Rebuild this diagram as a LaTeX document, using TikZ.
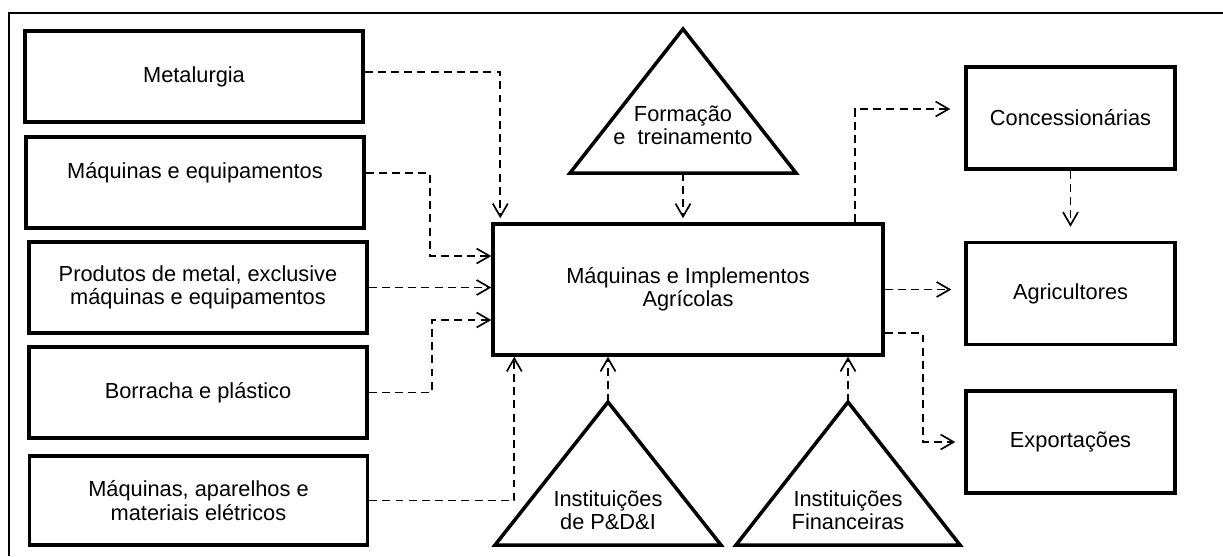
\documentclass[tikz,border=0pt]{standalone}
\usepackage{fontspec}
\setmainfont{Liberation Sans}
\usetikzlibrary{arrows.meta}

\tikzset{
  box/.style={rectangle, draw, line width=2pt, minimum width=6.76cm,
    minimum height=1.82cm, align=center, inner sep=0pt},
  sidebox/.style={box, minimum width=4.18cm, minimum height=2.04cm},
  tri/.style={draw, line width=2pt, line join=miter},
  flow/.style={line width=0.95pt, dash pattern=on 4.5pt off 3pt,
    -{Straight Barb[length=2.6mm,width=3mm]}},
}

\begin{document}
\begin{tikzpicture}[x=0.02cm, y=-0.02cm, font=\fontsize{12.4}{13.2}\selectfont]
  \useasboundingbox (0,0) rectangle (1223,556);
  % frame, cut by the page edge
  \draw[line width=1.2pt] (9,556) -- (9,13) -- (1223,13);

  % suppliers
  \node (metal) [box] at (194,76.5) {Metalurgia};
  \node (maqeq) [box] at (195,182.5) {Máquinas e equipamentos\\ \mbox{}};
  \node (produtos) [box] at (198,287.5) {Produtos de metal, exclusive\\máquinas e equipamentos};
  \node (borracha) [box] at (198,392.5) {Borracha e plástico};
  \node (eletr) [box, minimum height=1.78cm] at (198.5,500.5) {Máquinas, aparelhos e\\materiais elétricos};

  % centre
  \node (central) [box, minimum width=7.8cm, minimum height=2.62cm] at (688,289.5)
    {Máquinas e Implementos\\Agrícolas};

  % clients
  \node (conc) [sidebox] at (1070.5,118) {Concessionárias};
  \node (agri) [sidebox] at (1070.5,293.5) {Agricultores};
  \node (expo) [sidebox] at (1070.5,442) {Exportações};

  % triangles
  \coordinate (formapex) at (683,29);
  \coordinate (formbase) at (683,173);
  \draw[tri] (formapex) -- (796,173) -- (570,173) -- cycle;
  \node (formtxt) [align=center] at (683,125) {Formação\\e\ \ treinamento};

  \coordinate (pedapex) at (608,402);
  \draw[tri] (pedapex) -- (721,545) -- (495,545) -- cycle;
  \node (pedtxt) [align=center] at (608,510) {Instituições\\de P\&D\&I};

  \coordinate (finapex) at (848,402);
  \draw[tri] (finapex) -- (960,545) -- (736,545) -- cycle;
  \node (fintxt) [align=center] at (848,510) {Instituições\\Financeiras};

  % inputs
  \draw[flow, shorten >=0.08cm] ([yshift=0.09cm]metal.east) -| ([xshift=0.18cm]central.north west);
  \draw[flow] ([yshift=0.19cm]maqeq.east) -- ++(64,0) |- ([yshift=0.67cm]central.west);
  \draw[flow] (produtos.east) -- (produtos.east -| central.west);
  \draw[flow] (borracha.east) -- ++(63,0) |- ([yshift=-0.61cm]central.west);
  \draw[flow] (eletr.east) -| ([xshift=0.46cm]central.south west);
  \draw[flow, shorten >=0.08cm] (formbase) -- (formbase |- central.north);
  \draw[flow] (pedapex) -- (pedapex |- central.south);
  \draw[flow] (finapex) -- (finapex |- central.south);

  % outputs
  \draw[flow, shorten >=0.28cm] ([xshift=-0.6cm]central.north east) |- ([yshift=0.18cm]conc.west);
  \draw[flow, shorten >=0.26cm] (central.east) -- (central.east -| agri.west);
  \draw[flow, shorten >=0.18cm] ([yshift=-0.87cm]central.east) -- ++(38,0) |- (expo.west);
  \draw[flow, shorten >=0.28cm] (conc.south) -- (agri.north);
\end{tikzpicture}
\end{document}
